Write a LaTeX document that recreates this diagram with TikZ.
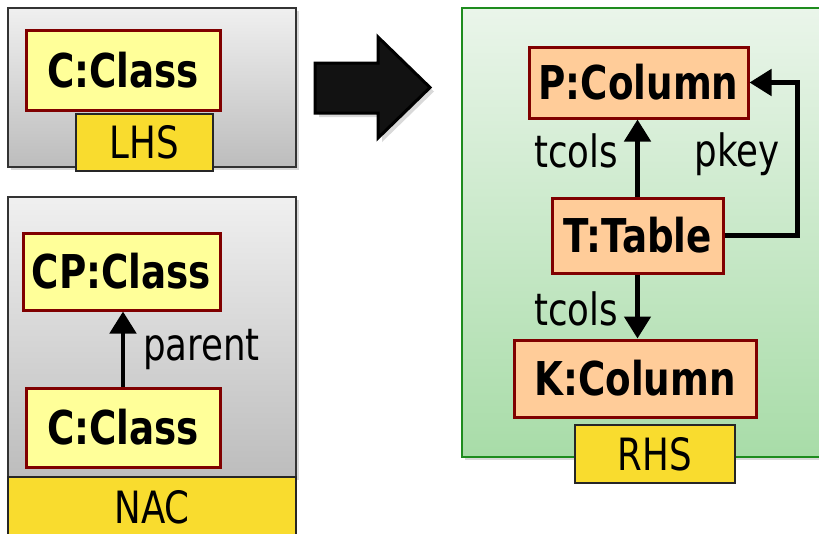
\documentclass[tikz,border=0pt]{standalone}
\usepackage{fontspec}
\setmainfont{DejaVu Sans}[FakeStretch=0.8]
\usetikzlibrary{positioning,calc,shadows,arrows.meta}
\definecolor{objline}{HTML}{800000}
\definecolor{classfill}{HTML}{FFFF99}
\definecolor{tablefill}{HTML}{FFCC99}
\definecolor{tagfill}{HTML}{F9DC2E}
\definecolor{rhsline}{HTML}{1E8C1E}
\definecolor{rhstop}{HTML}{EAF5EA}
\definecolor{rhsbottom}{HTML}{A8DCA8}

\begin{document}
\begin{tikzpicture}[x=1pt, y=-1pt, >={Triangle[width=26pt,length=22pt]},
    box/.style={draw=black!80, line width=1.5pt, top color=black!6, bottom color=black!26,
        drop shadow={shadow xshift=3pt, shadow yshift=-3pt, opacity=0.3}},
    obj/.style={draw=objline, line width=3pt, inner sep=0pt,
        font=\fontsize{46.6}{50}\selectfont\bfseries},
    classobj/.style={obj, fill=classfill},
    tableobj/.style={obj, fill=tablefill},
    tagbg/.style={draw=black!85, line width=2pt, fill=tagfill},
    tag/.style={tagbg, inner sep=0pt, font=\fontsize{44.5}{48}\selectfont},
    lbl/.style={inner sep=0pt, font=\fontsize{44.5}{48}\selectfont},
    link/.style={->, line width=4.8pt}]
    \useasboundingbox (0,0) rectangle (819,533);
    \clip (0,0) rectangle (819,533);

    % left hand side
    \draw[box] (8,8) rectangle (296,167);
    \node[classobj, minimum width=194pt, minimum height=80pt] (lc) at (123,70) {C:Class};
    \node[tag, minimum width=137pt, minimum height=57pt] (lhs) at (144.5,142.5) {LHS};

    % negative application condition
    \draw[box] (8,197) rectangle (296,477);
    \node[classobj, minimum width=197pt, minimum height=77pt] (cp) at (121.5,271.5) {CP:Class};
    \node[classobj, minimum width=194pt, minimum height=79pt] (nc) at (123,427.5) {C:Class};
    \draw[tagbg] (8,477) rectangle (296,545);
    \node[lbl] (nac) at (152,507) {NAC};
    \draw[link] (nc.north) -- (nc.north |- cp.south);
    \node[lbl] (parent) at (201.5,349) {parent};

    % transformation arrow
    \draw[fill=black!93, line width=3pt, line join=miter,
        drop shadow={shadow xshift=4pt, shadow yshift=-4pt, opacity=0.3}]
        (315,63) -- (378,63) -- (378,37) -- (430,87.5) -- (378,138) -- (378,113) -- (315,113) -- cycle;

    % right hand side
    \draw[draw=rhsline, line width=1.5pt, top color=rhstop, bottom color=rhsbottom,
        drop shadow={shadow xshift=3pt, shadow yshift=-3pt, opacity=0.3}] (462,8) rectangle (840,457);
    \node[tableobj, minimum width=219pt, minimum height=71pt] (pc) at (638.5,82.5) {P:Column};
    \node[tableobj, minimum width=171pt, minimum height=75pt] (tt) at (637.5,235.5) {T:Table};
    \node[tableobj, minimum width=242pt, minimum height=77pt] (kc) at (635,378.5) {K:Column};
    \node[tag, minimum width=160pt, minimum height=58pt] (rhs) at (655,454) {RHS};

    \coordinate (pk) at ($(pc.east)+(48,0)$);
    \draw[link] (tt.north) -- (tt.north |- pc.south);
    \draw[link] (tt.south) -- (tt.south |- kc.north);
    \draw[link, line join=miter] (tt.east) -- (tt.east -| pk) -- (pk) -- (pc.east);
    \node[lbl] (tcup) at (576,151) {tcols};
    \node[lbl] (pkey) at (737,154) {pkey};
    \node[lbl] (tcdown) at (576,309) {tcols};
\end{tikzpicture}
\end{document}
